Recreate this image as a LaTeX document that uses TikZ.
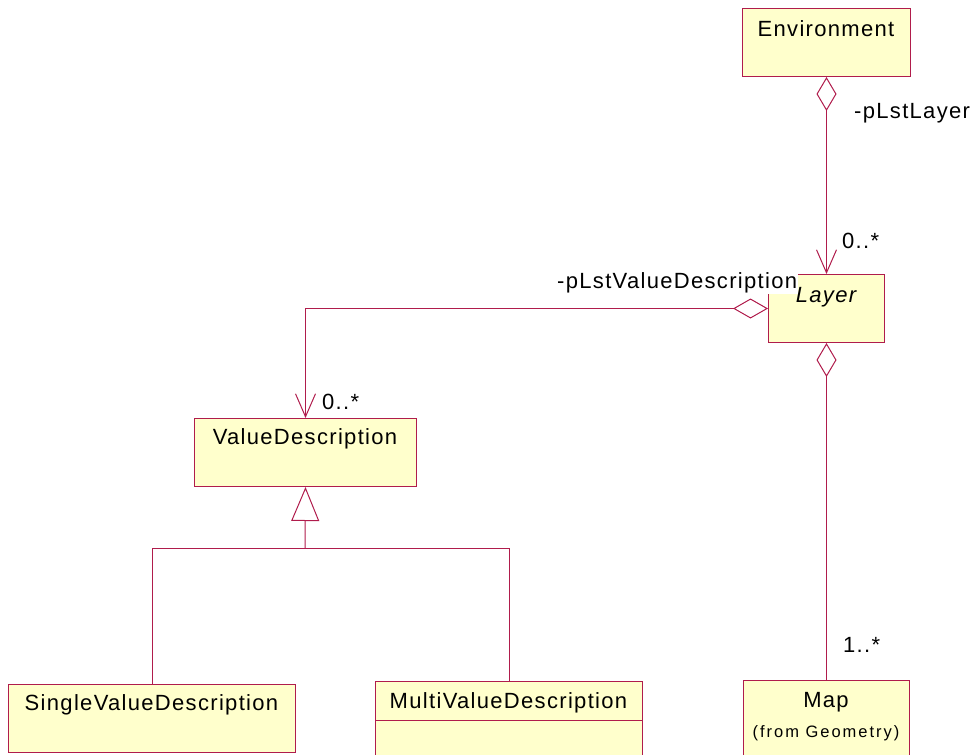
\documentclass[tikz,border=0pt]{standalone}
\usepackage{fontspec}
\setmainfont{Liberation Sans}[LetterSpace=6]
\newfontfamily\smallfam{Liberation Sans}[LetterSpace=12]
\usetikzlibrary{arrows.meta}
\definecolor{umlline}{RGB}{176,28,76}
\definecolor{umlfill}{RGB}{255,255,204}
\begin{document}
\begin{tikzpicture}[x=1pt,y=-1pt,
  cls/.style={draw=umlline, fill=umlfill, line width=1pt, inner sep=0pt, anchor=north west},
  clsname/.style={font=\fontsize{22}{26}\selectfont, anchor=base, inner sep=0pt},
  lbl/.style={font=\fontsize{22}{26}\selectfont, anchor=base west, inner sep=0pt},
  assoc/.style={draw=umlline, line width=1pt},
  aggtail/.style={{Diamond[open,length=34pt,width=20pt]}-{Straight Barb[length=23pt,width=20pt]}},
]
\useasboundingbox (0,0) rectangle (972,755);

% class boxes
\node[cls, minimum width=168pt, minimum height=68pt] (env)   at (742,8)   {};
\node[cls, minimum width=116pt, minimum height=68pt] (layer) at (768,274) {};
\node[cls, minimum width=222pt, minimum height=68pt] (vd)    at (194,418) {};
\node[cls, minimum width=287pt, minimum height=68pt] (svd)   at (8,684)   {};
\node[cls, minimum width=267pt, minimum height=90pt] (mvd)   at (375,681) {};
\node[cls, minimum width=166pt, minimum height=90pt] (map)   at (743,680) {};
\draw[umlline, line width=1pt] (mvd.west |- 0,720) -- (mvd.east |- 0,720);

% class names
\node[clsname] (envname)   at (826,36)  {Environment};
\node[clsname] (layername) at (826,302) {\itshape Layer};
\node[clsname] (vdname)    at (305,444) {ValueDescription};
\node[clsname] (svdname)   at (151.5,710) {SingleValueDescription};
\node[clsname] (mvdname)   at (508.5,708) {MultiValueDescription};
\node[clsname] (mapname)   at (826,707) {Map};
\node[clsname, font=\smallfam\fontsize{16.5}{20}\selectfont] (mapfrom) at (826,737) {(from Geometry)};

% aggregations
\draw[assoc, aggtail] (env.south) -- (layer.north);
\draw[assoc, {Diamond[open,length=35pt,width=20pt]}-{Straight Barb[length=23pt,width=20pt]}] (layer.west) -| (vd.north);
\draw[assoc, {Diamond[open,length=34pt,width=20pt]}-] (layer.south) -- (map.north);

% generalization
\coordinate (gsplit) at (305,548.5);
\draw[assoc, -{Triangle[open,length=34pt,width=28pt]}] (gsplit) -- (vd.south);
\draw[assoc] (svd.north) |- (gsplit) -| (mvd.north);

% roles and multiplicities
\node[lbl] (rolelayer) at (854,118) {-pLstLayer};
\node[lbl] (mullayer)  at (842,248) {0..*};
\node[lbl, fill=white, inner xsep=1pt, inner ysep=1pt] (rolevd) at (556,288) {-pLstValueDescription};
\node[lbl] (mulvd)     at (322,409) {0..*};
\node[lbl] (mulmap)    at (843,652) {1..*};
\end{tikzpicture}
\end{document}
